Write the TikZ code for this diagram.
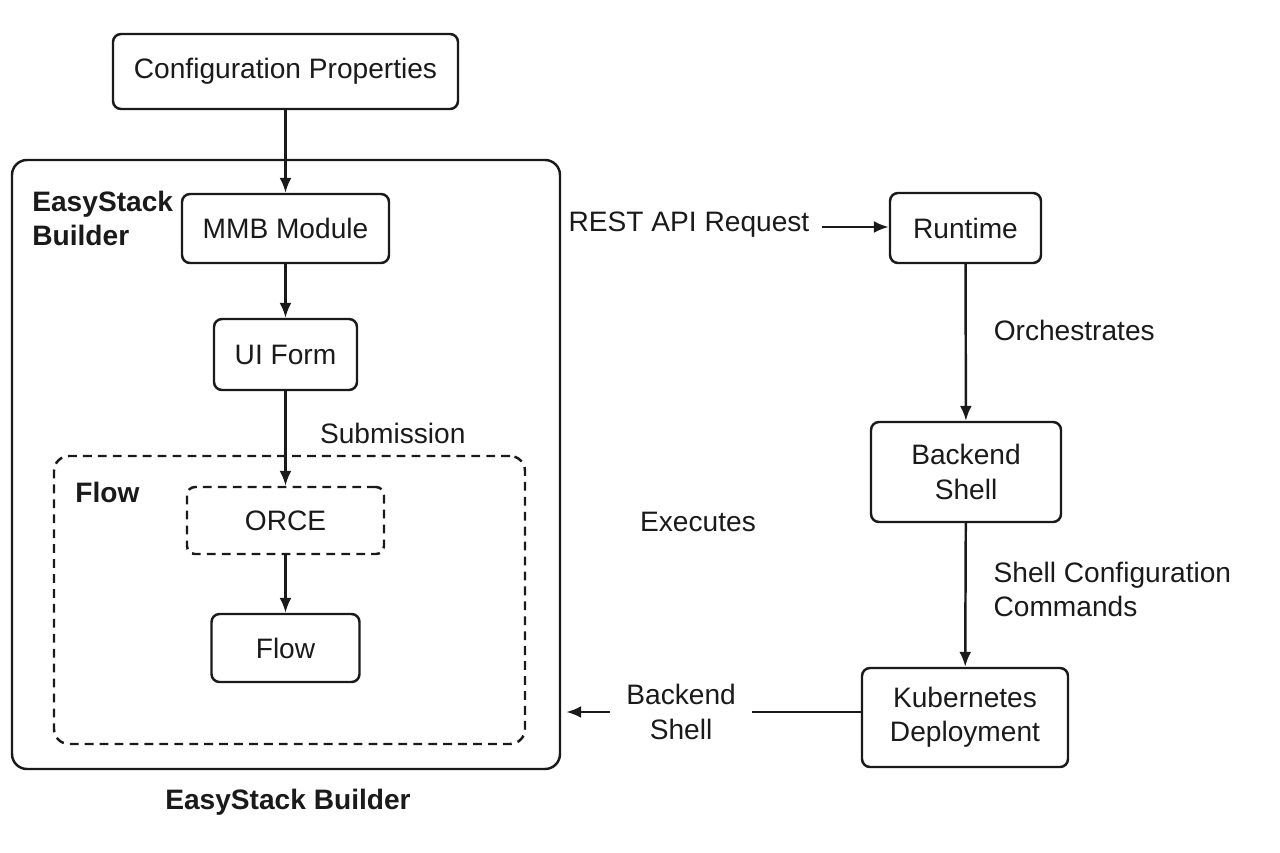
\documentclass[tikz,border=0pt]{standalone}
\usepackage{fontspec}
\setmainfont{Liberation Sans}
\usepackage{xcolor}
\definecolor{inkgray}{RGB}{26,26,26}
\usepackage{tikz}
\usetikzlibrary{
  arrows.meta,
  positioning,
  calc
}

\begin{document}
\begin{tikzpicture}[
  box/.style={rectangle, draw=inkgray, line width=1.4pt, fill=white, rounded corners=0.16cm, text=inkgray, font=\fontsize{16}{19.5}\selectfont, align=center},
  dbox/.style={box, dashed, dash pattern=on 5pt off 3.5pt},
  group/.style={rectangle, draw=inkgray, line width=1.4pt, rounded corners=0.3cm},
  title/.style={font=\fontsize{16}{19.5}\selectfont\bfseries, text=inkgray, align=left, inner sep=0pt},
  lbl/.style={font=\fontsize{16}{19.5}\selectfont, text=inkgray, align=left},
  arr/.style={-{Latex[length=0.3cm, width=0.24cm]}, line width=1.4pt, inkgray}
]
  \useasboundingbox (0,0) rectangle (25.6,-17.06);

  % left column
  \node[box, minimum width=6.9cm, minimum height=1.5cm] (config) at (5.71,-1.43) {Configuration Properties};

  \node[group, minimum width=10.96cm, minimum height=12.18cm] (builder) at (5.72,-9.29) {};
  \node[title, anchor=west] (buildertitle) at (0.64,-4.37) {EasyStack\\Builder};

  \node[box, minimum width=4.14cm, minimum height=1.38cm] (mmb) at (5.71,-4.57) {MMB Module};
  \node[box, minimum width=2.86cm, minimum height=1.42cm] (uiform) at (5.71,-7.09) {UI Form};

  \node[group, dashed, dash pattern=on 5pt off 3.5pt, minimum width=9.42cm, minimum height=5.76cm] (flowgroup) at (5.79,-12.0) {};
  \node[title, anchor=west] (flowtitle) at (1.5,-9.84) {Flow};

  \node[dbox, minimum width=3.94cm, minimum height=1.34cm] (orce) at (5.71,-10.41) {ORCE};
  \node[box, minimum width=2.96cm, minimum height=1.36cm] (flow) at (5.71,-12.96) {Flow};

  \node[title] (caption) at (5.76,-16.04) {EasyStack Builder};

  % right column
  \node[lbl] (rest) at (13.78,-4.5) {REST API Request};
  \node[box, minimum width=3.02cm, minimum height=1.4cm] (runtime) at (19.31,-4.56) {Runtime};
  \node[box, minimum width=3.8cm, minimum height=2.0cm] (backend) at (19.32,-9.44) {Backend\\Shell};
  \node[box, minimum width=4.12cm, minimum height=1.98cm] (k8s) at (19.3,-14.35) {Kubernetes\\Deployment};

  \node[lbl] (executes) at (13.96,-10.44) {Executes};

  \draw[arr] (config) -- (mmb);
  \draw[arr] (mmb) -- (uiform);
  \draw[arr] (uiform) -- node[lbl, right=0.55cm, pos=0.45]{Submission} (orce);
  \draw[arr] (orce) -- (flow);

  \coordinate (restout) at ($(rest.east) + (0.12,-0.04)$);
  \draw[arr] (restout) -- (runtime.west |- restout);
  \draw[arr] (runtime) -- node[lbl, right=0.42cm, pos=0.42]{Orchestrates} (backend);
  \draw[arr] (backend) -- node[lbl, right=0.42cm, pos=0.46]{Shell Configuration\\Commands} (k8s);

  \coordinate (backin) at ($(builder.east |- k8s.west) + (0.1,0.11)$);
  \draw[arr] ($(k8s.west) + (0,0.11)$) -- node[lbl, fill=white, align=center, inner xsep=0.32cm, pos=0.61]{Backend\\Shell} (backin);
\end{tikzpicture}
\end{document}
